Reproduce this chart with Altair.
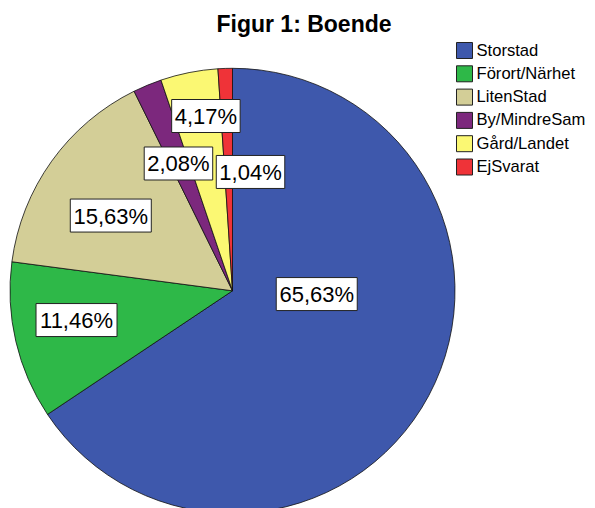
import altair as alt
import pandas as pd

# ---- data ----
categories = ["Storstad", "Förort/Närhet", "LitenStad", "By/MindreSam", "Gård/Landet", "EjSvarat"]
counts = [63, 11, 15, 2, 4, 1]          # N = 96
colors = ["#3E58AC", "#2EB848", "#D3CE97", "#7C287D", "#FBF873", "#EF3338"]
TITLE = "Figur 1: Boende"

# ---- layout ----
CX, CY, R = 224.5, 282.8, 222.5
label_radius = [84.3, 158.7, 143.1, 138.3, 176.8, 120.2]
label_angle_shift = [-25.9, 2.5, -3.9, -0.5, 2.6, 10.5]
FONT = "Liberation Sans"

df = pd.DataFrame({
    "cat": categories,
    "n": counts,
    "order": list(range(len(categories))),
    "lr": label_radius,
    "ls": label_angle_shift,
})

color = alt.Color(
    "cat:N",
    sort=categories,
    scale=alt.Scale(domain=categories, range=colors),
    legend=alt.Legend(
        title=None, orient="none", legendX=448, legendY=34,
        symbolType="square", symbolSize=256, symbolStrokeColor="#222",
        symbolStrokeWidth=1, symbolOpacity=1,
        labelFont=FONT, labelFontSize=16.6, labelColor="black",
        labelOffset=3.5, rowPadding=2.3, padding=0, labelLimit=200,
    ),
)

arcs = alt.Chart(df).mark_arc(outerRadius=R, stroke="#111", strokeWidth=0.8).encode(
    theta=alt.Theta("n:Q", stack=True),
    order=alt.Order("order:Q"),
    color=color,
    x=alt.value(CX),
    y=alt.value(CY),
)

lab = alt.Chart(df).transform_joinaggregate(
    total="sum(n)"
).transform_window(
    cum="sum(n)", sort=[alt.SortField("order")], frame=[None, 0]
).transform_calculate(
    pct="datum.n / datum.total * 100",
    mid="(datum.cum - datum.n / 2) / datum.total * 2 * PI + datum.ls * PI / 180",
    lx=f"{CX} + datum.lr * sin(datum.mid)",
    ly=f"{CY} - datum.lr * cos(datum.mid)",
    label="replace(format(datum.pct, '.2f'), '.', ',') + '%'",
    bw="length(datum.label) * 12.5 + 6",
    bx1="datum.lx - datum.bw / 2",
    bx2="datum.lx + datum.bw / 2",
    by1="datum.ly - 16.5",
    by2="datum.ly + 16.5",
)

boxes = lab.mark_rect(fill="white", stroke="#222", strokeWidth=1).encode(
    x=alt.X("bx1:Q", scale=None, axis=None),
    x2="bx2:Q",
    y=alt.Y("by1:Q", scale=None, axis=None),
    y2="by2:Q",
)

texts = lab.mark_text(font=FONT, fontSize=22, align="center", baseline="middle", color="black", dy=1).encode(
    x=alt.X("lx:Q", scale=None, axis=None),
    y=alt.Y("ly:Q", scale=None, axis=None),
    text="label:N",
)

title = alt.Chart(pd.DataFrame({"t": [TITLE]})).mark_text(
    font=FONT, fontSize=23, fontWeight="bold", align="center", baseline="alphabetic", color="black"
).encode(
    x=alt.value(296), y=alt.value(23.5), text="t:N"
)

chart = alt.layer(arcs, boxes, texts, title).properties(
    width=579, height=500, padding=0, autosize="none"
).configure_view(stroke=None)

chart.save("out.html", embed_options={"renderer": "svg", "actions": False})
